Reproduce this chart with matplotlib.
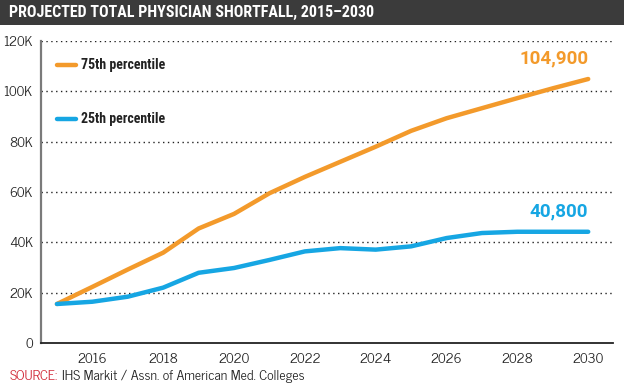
import matplotlib

matplotlib.use("Agg")
import matplotlib.pyplot as plt
from matplotlib.ticker import FuncFormatter

BODY_FONT = ["News Cycle", "DejaVu Sans"]
TITLE_FONT = ["Roboto Condensed", "DejaVu Sans"]
BOLD_FONT = ["Roboto", "DejaVu Sans"]
plt.rcParams["font.family"] = BODY_FONT

ORANGE = "#F39A2B"
BLUE = "#16A6E3"
TITLE_BG = "#3b3b3b"

years = list(range(2015, 2031))
p75 = [15.5, 22.3, 29.2, 35.9, 45.5, 51.3, 59.5, 66.0, 72.0, 78.0, 84.3, 89.3, 93.3, 97.3, 101.2, 104.9]
p25 = [15.5, 16.4, 18.4, 22.0, 27.9, 29.8, 33.0, 36.4, 37.7, 37.1, 38.4, 41.7, 43.7, 44.2, 44.2, 44.2]
series_labels = ["75th percentile", "25th percentile"]
end_labels = ["104,900", "40,800"]
x_ticks = [2016, 2018, 2020, 2022, 2024, 2026, 2028, 2030]
y_ticks = [0, 20, 40, 60, 80, 100, 120]

fig = plt.figure(figsize=(6.24, 3.9), dpi=100)
fig.patch.set_facecolor("white")

# title bar
fig.patches.append(plt.Rectangle((0, 1 - 25 / 390), 1, 25 / 390, transform=fig.transFigure,
                                 facecolor=TITLE_BG, edgecolor="none", zorder=0))
fig.text(9 / 624, 1 - 12.5 / 390, "PROJECTED TOTAL PHYSICIAN SHORTFALL, 2015\u20132030",
         color="white", fontsize=11.5, fontweight="bold", va="center", ha="left", family=TITLE_FONT)

ax = fig.add_axes([41 / 624, 1 - 343 / 390, (613 - 41) / 624, (343 - 41) / 390])
ax.plot(years, p75, color=ORANGE, lw=3.2, solid_capstyle="round", solid_joinstyle="round", zorder=3)
ax.plot(years, p25, color=BLUE, lw=3.2, solid_capstyle="round", solid_joinstyle="round", zorder=3)

ax.set_xlim(2014.55, 2030.7)
ax.set_ylim(0, 120)
ax.set_xticks(x_ticks)
ax.set_yticks(y_ticks)
ax.yaxis.set_major_formatter(FuncFormatter(lambda v, p: "0" if v == 0 else f"{int(v)}K"))
ax.tick_params(axis="both", length=0, labelsize=10, colors="#222222")
ax.tick_params(axis="x", pad=7)
ax.tick_params(axis="y", pad=6)

for yv in y_ticks[1:]:
    ax.axhline(yv, color="#222222", lw=1.0, ls=(0, (1, 2.5)), zorder=1)

for side in ["top", "right"]:
    ax.spines[side].set_visible(False)
ax.spines["left"].set_color("#7a7a7a")
ax.spines["left"].set_linewidth(1.6)
ax.spines["bottom"].set_color("#222222")
ax.spines["bottom"].set_linewidth(1.3)

# legend
for yv, col, lab in [(110.5, ORANGE, series_labels[0]), (89.2, BLUE, series_labels[1])]:
    ax.plot([2015.0, 2015.55], [yv, yv], color=col, lw=3.2, solid_capstyle="round",
            transform=ax.transData, clip_on=False)
    ax.text(2015.68, yv, lab, fontsize=10, fontweight="bold", color="#222222", va="center", ha="left",
            family=TITLE_FONT)

# end labels
ax.text(years[-1], p75[-1] + 4.5, end_labels[0], color=ORANGE, fontsize=13.5, fontweight="bold",
        ha="right", va="bottom", family=BOLD_FONT)
ax.text(years[-1], p25[-1] + 4.5, end_labels[1], color=BLUE, fontsize=13.5, fontweight="bold",
        ha="right", va="bottom", family=BOLD_FONT)

# source line
src = fig.text(10 / 624, 1 - 376 / 390, "SOURCE:", color="#d22b3a", fontsize=10, va="center", ha="left")
fig.canvas.draw()
bb = src.get_window_extent()
fig.text((bb.x1 + 4) / 624, 1 - 376 / 390, "IHS Markit / Assn. of American Med. Colleges",
         color="#222222", fontsize=10, va="center", ha="left")

fig.savefig("out.png", dpi=100)
